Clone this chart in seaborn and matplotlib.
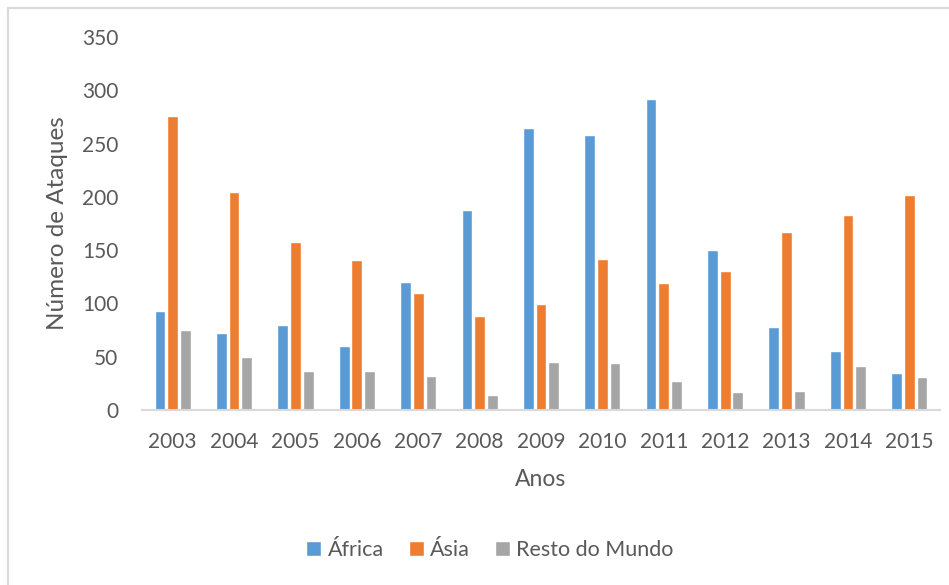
import pandas as pd
import matplotlib.pyplot as plt
import seaborn as sns
from matplotlib.lines import Line2D

# Dados
anos = ['2003', '2004', '2005', '2006', '2007', '2008', '2009',
        '2010', '2011', '2012', '2013', '2014', '2015']
africa = [93, 72, 80, 60, 120, 188, 265, 258, 292, 150, 78, 55, 35]
asia = [276, 205, 158, 141, 110, 88, 99, 142, 119, 130, 167, 183, 202]
resto_mundo = [75, 50, 37, 37, 32, 14, 45, 44, 27, 17, 18, 41, 31]
regioes = ['África', 'Ásia', 'Resto do Mundo']
cores = ['#5B9BD5', '#ED7D31', '#A5A5A5']

df = pd.DataFrame({'Anos': anos * 3,
                   'Ataques': africa + asia + resto_mundo,
                   'Regiao': [r for r in regioes for _ in anos]})

sns.set_style('white')
plt.rcParams['font.family'] = ['Lato', 'DejaVu Sans']
cor_texto = '#595959'

fig = plt.figure(figsize=(9.49, 5.85), dpi=100)
ax = fig.add_axes([142 / 949, 1 - 410 / 585, 798 / 949, 373 / 585])

sns.barplot(data=df, x='Anos', y='Ataques', hue='Regiao', hue_order=regioes,
            palette=cores, width=0.62, gap=0.15, saturation=1, ax=ax)

ax.set_ylim(0, 350)
ax.set_xlim(-0.5, 12.5)
ax.set_yticks(range(0, 351, 50))
ax.set_xlabel('Anos', fontsize=16.5, color=cor_texto, labelpad=12)
ax.set_ylabel('Número de Ataques', fontsize=17.5, color=cor_texto, labelpad=10)
ax.tick_params(axis='both', labelsize=15, colors=cor_texto, length=0)
ax.tick_params(axis='x', pad=16)
ax.tick_params(axis='y', pad=17)

for lado in ['top', 'right', 'left']:
    ax.spines[lado].set_visible(False)
ax.spines['bottom'].set_color('#D9D9D9')
ax.spines['bottom'].set_linewidth(1.5)

handles, labels = ax.get_legend_handles_labels()
ax.get_legend().remove()
fig.legend(handles, labels, loc='center', bbox_to_anchor=(490 / 949, 1 - 550 / 585),
           ncol=3, frameon=False, fontsize=15.5, labelcolor=cor_texto,
           handlelength=0.7, handleheight=0.7, handletextpad=0.3, columnspacing=1.15)

# borda do grafico
fig.add_artist(Line2D([8 / 949, 1], [1 - 8 / 585, 1 - 8 / 585], color='#D9D9D9', lw=1.5))
fig.add_artist(Line2D([8 / 949, 8 / 949], [0, 1 - 8 / 585], color='#D9D9D9', lw=1.5))

fig.savefig('out.png', dpi=100)
